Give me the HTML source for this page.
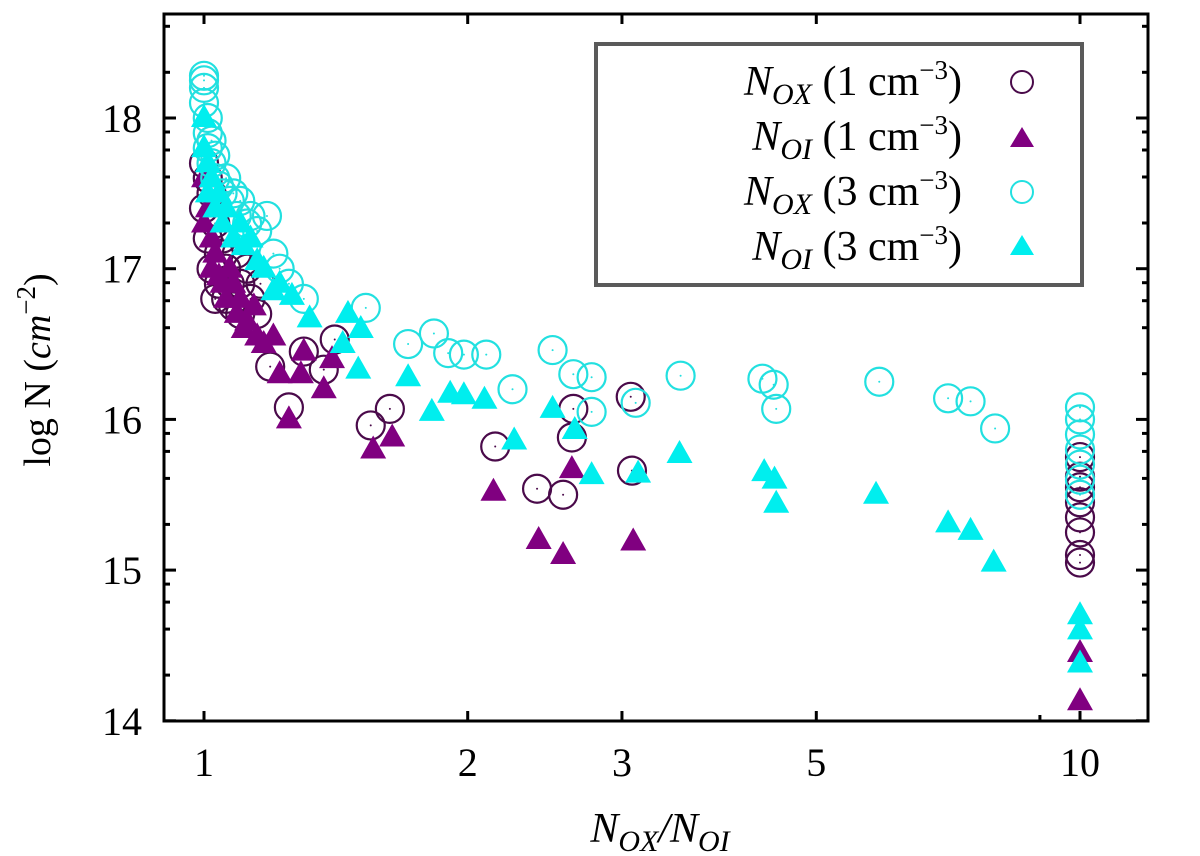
<!DOCTYPE html>
<html><head><meta charset="utf-8"><style>
html,body{margin:0;padding:0;background:#fff;}
svg{display:block;font-family:"Liberation Serif",serif;}
</style></head><body>
<svg id="chart" width="1200" height="856" viewBox="0 0 1200 856">
<rect x="0" y="0" width="1200" height="856" fill="#fff"/>
<g id="marks"></g>
<g id="axes"></g>
<g>
<rect x="596" y="44" width="486" height="241" fill="#fff" stroke="#5a5a5a" stroke-width="4"/>
<text x="962" y="95" text-anchor="end" font-size="42"><tspan font-style="italic">N</tspan><tspan font-style="italic" font-size="30" dy="9">OX</tspan><tspan dy="-9"> (1 cm</tspan><tspan font-size="27" dy="-16">−3</tspan><tspan dy="16">)</tspan></text>
<text x="962" y="150" text-anchor="end" font-size="42"><tspan font-style="italic">N</tspan><tspan font-style="italic" font-size="30" dy="9">OI</tspan><tspan dy="-9"> (1 cm</tspan><tspan font-size="27" dy="-16">−3</tspan><tspan dy="16">)</tspan></text>
<text x="962" y="205" text-anchor="end" font-size="42"><tspan font-style="italic">N</tspan><tspan font-style="italic" font-size="30" dy="9">OX</tspan><tspan dy="-9"> (3 cm</tspan><tspan font-size="27" dy="-16">−3</tspan><tspan dy="16">)</tspan></text>
<text x="962" y="260" text-anchor="end" font-size="42"><tspan font-style="italic">N</tspan><tspan font-style="italic" font-size="30" dy="9">OI</tspan><tspan dy="-9"> (3 cm</tspan><tspan font-size="27" dy="-16">−3</tspan><tspan dy="16">)</tspan></text>
<circle cx="1022" cy="82" r="11" fill="none" stroke="#4a0a4a" stroke-width="2"/>
<polygon points="1010,147 1034,147 1022,127" fill="#800080"/>
<circle cx="1022" cy="192" r="11" fill="none" stroke="#22e0e0" stroke-width="2"/>
<polygon points="1010,255 1034,255 1022,235" fill="#00eeee"/>
</g>
<text transform="translate(50,370) rotate(-90)" text-anchor="middle" font-size="38">log N (<tspan font-style="italic">cm</tspan><tspan font-size="27" dy="-15">−2</tspan><tspan dy="15">)</tspan></text>
<text x="660" y="842" text-anchor="middle" font-size="42"><tspan font-style="italic">N</tspan><tspan font-style="italic" font-size="30" dy="9">OX</tspan><tspan dy="-9" font-style="italic">/N</tspan><tspan font-style="italic" font-size="30" dy="9">OI</tspan></text>
</svg>
<script>
// ---- data ----
const noxRatio1 = [1.0,1.0,1.01,1.01,1.02,1.02,1.03,1.03,1.04,1.04,1.05,1.06,1.06,1.07,1.08,1.09,1.1,1.1,1.12,1.13,1.15,1.16,1.19,1.25,1.3,1.37,1.41,1.55,1.63,2.15,2.40,2.57,2.63,2.64,3.07,3.08,10,10,10,10,10,10,10,10];
const noxVal1   = [17.7,17.4,17.6,17.2,17.5,17.0,17.3,16.8,17.1,16.9,17.2,16.8,17.0,16.9,16.75,17.1,16.9,16.7,17.0,16.8,16.7,16.9,16.35,16.08,16.45,16.33,16.53,15.96,16.07,15.82,15.54,15.5,15.88,16.07,16.15,15.66,15.05,15.1,15.25,15.35,15.45,15.55,15.75,15.62];
const noiRatio1 = [1.0,1.0,1.01,1.02,1.02,1.03,1.04,1.05,1.06,1.07,1.08,1.09,1.1,1.11,1.12,1.14,1.15,1.17,1.2,1.22,1.25,1.29,1.3,1.37,1.4,1.56,1.64,2.14,2.41,2.57,2.63,3.09,10,10];
const noiVal1   = [17.6,17.3,17.4,17.2,17.0,17.1,16.95,16.9,16.8,17.0,16.9,16.7,16.8,16.6,16.65,16.75,16.55,16.5,16.55,16.3,16.0,16.3,16.45,16.2,16.4,15.8,15.88,15.52,15.2,15.1,15.67,15.19,14.45,14.13];
const noxRatio3 = [1.0,1.0,1.0,1.0,1.01,1.01,1.01,1.02,1.02,1.03,1.03,1.04,1.05,1.06,1.07,1.08,1.09,1.1,1.12,1.13,1.15,1.18,1.2,1.22,1.25,1.3,1.53,1.71,1.83,1.9,1.98,2.10,2.25,2.5,2.64,2.77,2.77,3.11,3.5,4.34,4.47,4.5,5.9,7.07,7.5,8.0,10,10,10,10,10,10,10];
const noxVal3   = [18.28,18.25,18.2,18.1,18.0,17.9,17.8,17.7,17.85,17.6,17.75,17.55,17.5,17.6,17.45,17.5,17.35,17.45,17.3,17.35,17.25,17.35,17.1,17.0,16.9,16.8,16.74,16.5,16.57,16.44,16.43,16.43,16.2,16.46,16.3,16.28,16.05,16.11,16.29,16.27,16.23,16.07,16.25,16.14,16.12,15.94,16.08,16.0,15.9,15.8,15.7,15.6,15.5];
const noiRatio3 = [1.0,1.0,1.01,1.01,1.02,1.03,1.04,1.05,1.06,1.08,1.1,1.11,1.13,1.15,1.17,1.2,1.22,1.26,1.32,1.46,1.51,1.44,1.5,1.71,1.82,1.91,1.98,2.09,2.26,2.5,2.65,2.77,3.13,3.49,4.36,4.48,4.5,5.85,7.07,7.5,7.97,10,10,10];
const noiVal3   = [18.0,17.8,17.7,17.5,17.6,17.4,17.5,17.3,17.4,17.2,17.3,17.15,17.2,17.05,17.0,16.85,16.9,16.82,16.67,16.7,16.6,16.5,16.33,16.28,16.05,16.17,16.16,16.13,15.86,16.07,15.93,15.63,15.64,15.77,15.65,15.6,15.44,15.5,15.31,15.26,15.05,14.7,14.6,14.38];
const yTicks = [14,15,16,17,18];
const xTicks = [1,2,3,5,10];

// ---- axes ----
const L=164,R=1148,T=14,B=721;
const X = r => 204 + Math.log10(r)*876;
const Y = v => 118 + (18 - v)*150.7;
const NS='http://www.w3.org/2000/svg';
function mk(tag, attrs, parent){const e=document.createElementNS(NS,tag);for(const k in attrs)e.setAttribute(k,attrs[k]);parent.appendChild(e);return e;}
const marks=document.getElementById('marks');
const axes=document.getElementById('axes');

function circles(rs, vs, color, name){
  rs.forEach((r,i)=>{
    const g=mk('g',{},marks);
    
    
    mk('circle',{cx:X(r),cy:Y(vs[i]),r:14,fill:'none',stroke:color,'stroke-width':2.2},g);
    mk('circle',{cx:X(r),cy:Y(vs[i]),r:1,fill:color},g);
  });
}
function tris(rs, vs, color, name){
  rs.forEach((r,i)=>{
    const x=X(r),y=Y(vs[i]);
    const p=mk('polygon',{points:`${x-13},${y+9} ${x+13},${y+9} ${x},${y-14}`,fill:color},marks);
    
    
  });
}
circles(noxRatio1,noxVal1,'#4a0a4a','point-nox-1');
tris(noiRatio1,noiVal1,'#800080','point-noi-1');
circles(noxRatio3,noxVal3,'#22e0e0','point-nox-3');
tris(noiRatio3,noiVal3,'#00eeee','point-noi-3');

// frame
const fr=mk('rect',{x:L,y:T,width:R-L,height:B-T,fill:'none',stroke:'#000','stroke-width':3},axes);



const minorOff=[14,32,59,105];
yTicks.forEach(v=>{
  const y=Y(v);
  mk('line',{x1:L,x2:L+12,y1:y,y2:y,stroke:'#000','stroke-width':3},axes);
  mk('line',{x1:R,x2:R-12,y1:y,y2:y,stroke:'#000','stroke-width':3},axes);
  const t=mk('text',{x:L-22,y:y+14,'text-anchor':'end','font-size':40},axes);
  t.textContent=v;
  
  
});
[13,14,15,16,17,18].forEach(v=>{
  minorOff.forEach(o=>{
    const y=Y(v+1)+o;
    if(y>T+2&&y<B-2){
      mk('line',{x1:L,x2:L+6,y1:y,y2:y,stroke:'#000','stroke-width':3},axes);
      mk('line',{x1:R,x2:R-6,y1:y,y2:y,stroke:'#000','stroke-width':3},axes);
    }
  });
});
xTicks.forEach(r=>{
  const x=X(r);
  mk('line',{x1:x,x2:x,y1:B,y2:B-10,stroke:'#000','stroke-width':3},axes);
  mk('line',{x1:x,x2:x,y1:T,y2:T+10,stroke:'#000','stroke-width':3},axes);
  const t=mk('text',{x:x,y:B+55,'text-anchor':'middle','font-size':40},axes);
  t.textContent=r;
  
  
});
mk('line',{x1:X(9),x2:X(9),y1:B,y2:B-6,stroke:'#000','stroke-width':3},axes);
</script>
</body></html>
